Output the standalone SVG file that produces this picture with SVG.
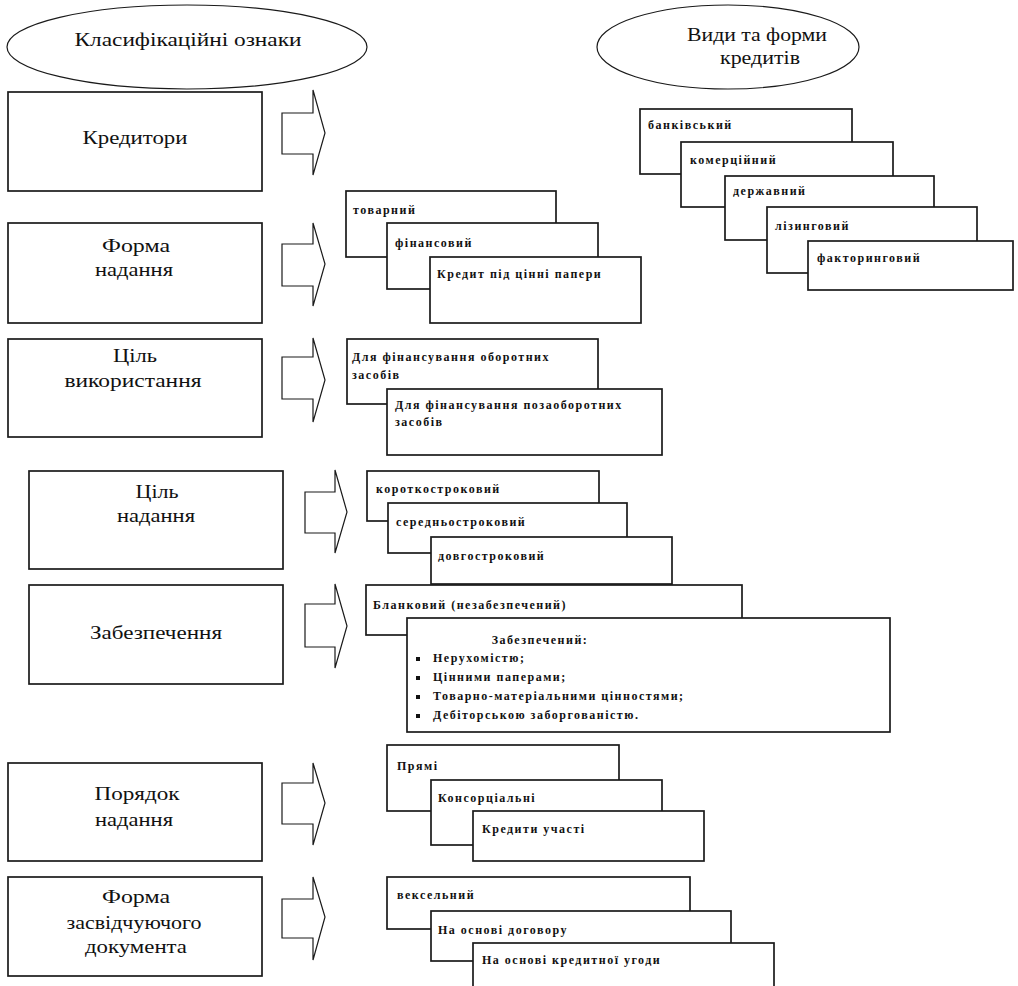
<svg xmlns="http://www.w3.org/2000/svg" width="1018" height="986" viewBox="0 0 1018 986">
<style>
.bg{fill:#ffffff}
.box{fill:#ffffff;stroke:#1a1a1a;stroke-width:1.7}
.ell{fill:#ffffff;stroke:#1a1a1a;stroke-width:1.2}
.arr{fill:#ffffff;stroke:#1a1a1a;stroke-width:1.2;stroke-linejoin:miter}
.big{font-family:"Liberation Serif","Times New Roman","DejaVu Serif",serif;font-size:19px;fill:#111;text-anchor:middle}
.sm{font-family:"Liberation Serif","Times New Roman","DejaVu Serif",serif;font-size:12px;font-weight:bold;fill:#111;letter-spacing:1.5px}
.smc{font-family:"Liberation Serif","Times New Roman","DejaVu Serif",serif;font-size:12px;font-weight:bold;fill:#111;letter-spacing:1.5px;text-anchor:middle}
.bul{fill:#111}
</style>
<rect class="bg" x="0" y="0" width="1018" height="986"/>

<g id="header-left">
<ellipse class="ell" cx="187" cy="47" rx="180" ry="42"/>
<text class="big" x="188" y="46" textLength="227" lengthAdjust="spacingAndGlyphs">Класифікаційні ознаки</text>
</g>
<g id="header-right">
<ellipse class="ell" cx="728" cy="47" rx="131" ry="42"/>
<text class="big" x="757" y="41" textLength="140" lengthAdjust="spacingAndGlyphs">Види та форми</text>
<text class="big" x="760" y="64" textLength="80" lengthAdjust="spacingAndGlyphs">кредитів</text>
</g>

<g id="node-kredytory">
<rect class="box" x="8" y="92" width="254" height="99"/>
<text class="big" x="135" y="144" textLength="105" lengthAdjust="spacingAndGlyphs">Кредитори</text>
</g>
<g id="node-forma-nadannia">
<rect class="box" x="8" y="223" width="254" height="100"/>
<text class="big" x="136" y="252" textLength="68" lengthAdjust="spacingAndGlyphs">Форма</text>
<text class="big" x="134" y="276" textLength="78" lengthAdjust="spacingAndGlyphs">надання</text>
</g>
<g id="node-meta-vykorystannia">
<rect class="box" x="8" y="339" width="254" height="98"/>
<text class="big" x="135" y="362" textLength="44" lengthAdjust="spacingAndGlyphs">Ціль</text>
<text class="big" x="133" y="387" textLength="137" lengthAdjust="spacingAndGlyphs">використання</text>
</g>
<g id="node-meta-nadannia">
<rect class="box" x="29" y="471" width="254" height="98"/>
<text class="big" x="157" y="498" textLength="43" lengthAdjust="spacingAndGlyphs">Ціль</text>
<text class="big" x="156" y="522" textLength="78" lengthAdjust="spacingAndGlyphs">надання</text>
</g>
<g id="node-zabezpechennia">
<rect class="box" x="29" y="585" width="254" height="99"/>
<text class="big" x="156" y="639" textLength="132" lengthAdjust="spacingAndGlyphs">Забезпечення</text>
</g>
<g id="node-poriadok">
<rect class="box" x="8" y="763" width="254" height="98"/>
<text class="big" x="137" y="800" textLength="85" lengthAdjust="spacingAndGlyphs">Порядок</text>
<text class="big" x="134" y="826" textLength="78" lengthAdjust="spacingAndGlyphs">надання</text>
</g>
<g id="node-forma-dokumenta">
<rect class="box" x="8" y="877" width="254" height="99"/>
<text class="big" x="136" y="903" textLength="68" lengthAdjust="spacingAndGlyphs">Форма</text>
<text class="big" x="134" y="929" textLength="135" lengthAdjust="spacingAndGlyphs">засвідчуючого</text>
<text class="big" x="136" y="953" textLength="102" lengthAdjust="spacingAndGlyphs">документа</text>
</g>

<g id="connectors">
<polygon class="arr" points="282,113 313,113 313,90 325,133 313,175 313,154 282,154"/>
<polygon class="arr" points="282,244 313,244 313,223 325,264 313,306 313,286 282,286"/>
<polygon class="arr" points="282,357 313,357 313,338 325,380 313,422 313,399 282,399"/>
<polygon class="arr" points="305,492 335,492 335,470 347,512 335,553 335,533 305,533"/>
<polygon class="arr" points="305,604 335,604 335,584 347,626 335,668 335,647 305,647"/>
<polygon class="arr" points="282,783 313,783 313,763 325,803 313,845 313,824 282,824"/>
<polygon class="arr" points="282,899 313,899 313,877 325,917 313,960 313,938 282,938"/>
</g>

<g id="group-kredytory">
<g id="k1"><rect class="box" x="640" y="109" width="212" height="65"/><text class="sm" x="648" y="129">банківський</text></g>
<g id="k2"><rect class="box" x="681" y="142" width="212" height="65"/><text class="sm" x="690" y="164">комерційний</text></g>
<g id="k3"><rect class="box" x="725" y="176" width="209" height="64"/><text class="sm" x="733" y="195">державний</text></g>
<g id="k4"><rect class="box" x="767" y="207" width="210" height="66"/><text class="sm" x="775" y="230">лізинговий</text></g>
<g id="k5"><rect class="box" x="808" y="241" width="205" height="49"/><text class="sm" x="817" y="262">факторинговий</text></g>
</g>

<g id="group-forma">
<g id="f1"><rect class="box" x="346" y="191" width="210" height="66"/><text class="sm" x="353" y="214">товарний</text></g>
<g id="f2"><rect class="box" x="387" y="223" width="211" height="66"/><text class="sm" x="395" y="247">фінансовий</text></g>
<g id="f3"><rect class="box" x="430" y="257" width="211" height="66"/><text class="sm" x="437" y="278">Кредит під цінні папери</text></g>
</g>

<g id="group-vykorystannia">
<g id="u1"><rect class="box" x="347" y="339" width="251" height="65"/><text class="sm" x="352" y="361">Для фінансування оборотних</text><text class="sm" x="352" y="379">засобів</text></g>
<g id="u2"><rect class="box" x="387" y="389" width="275" height="66"/><text class="sm" x="395" y="409">Для фінансування позаоборотних</text><text class="sm" x="395" y="426">засобів</text></g>
</g>

<g id="group-strok">
<g id="t1"><rect class="box" x="367" y="471" width="232" height="50"/><text class="sm" x="376" y="493">короткостроковий</text></g>
<g id="t2"><rect class="box" x="388" y="503" width="239" height="50"/><text class="sm" x="396" y="526">середньостроковий</text></g>
<g id="t3"><rect class="box" x="431" y="537" width="241" height="47"/><text class="sm" x="438" y="560">довгостроковий</text></g>
</g>

<g id="group-zabezpechennia">
<g id="s1"><rect class="box" x="366" y="585" width="376" height="50"/><text class="sm" x="373" y="609">Бланковий (незабезпечений)</text></g>
<g id="s2"><rect class="box" x="407" y="618" width="483" height="114"/>
<text class="smc" x="540" y="644">Забезпечений:</text>
<rect class="bul" x="416" y="657" width="4" height="4"/><text class="sm" x="433" y="662">Нерухомістю;</text>
<rect class="bul" x="416" y="676" width="4" height="4"/><text class="sm" x="433" y="681">Цінними паперами;</text>
<rect class="bul" x="416" y="695" width="4" height="4"/><text class="sm" x="433" y="700">Товарно-матеріальними цінностями;</text>
<rect class="bul" x="416" y="714" width="4" height="4"/><text class="sm" x="433" y="719">Дебіторською заборгованістю.</text>
</g>
</g>

<g id="group-poriadok">
<g id="o1"><rect class="box" x="387" y="745" width="232" height="66"/><text class="sm" x="397" y="770">Прямі</text></g>
<g id="o2"><rect class="box" x="431" y="780" width="231" height="65"/><text class="sm" x="438" y="802">Консорціальні</text></g>
<g id="o3"><rect class="box" x="473" y="811" width="231" height="50"/><text class="sm" x="482" y="833">Кредити участі</text></g>
</g>

<g id="group-dokument">
<g id="d1"><rect class="box" x="387" y="877" width="303" height="52"/><text class="sm" x="397" y="899">вексельний</text></g>
<g id="d2"><rect class="box" x="431" y="911" width="300" height="50"/><text class="sm" x="438" y="934">На основі договору</text></g>
<g id="d3"><rect class="box" x="473" y="943" width="301" height="60"/><text class="sm" x="482" y="964">На основі кредитної угоди</text></g>
</g>
</svg>
